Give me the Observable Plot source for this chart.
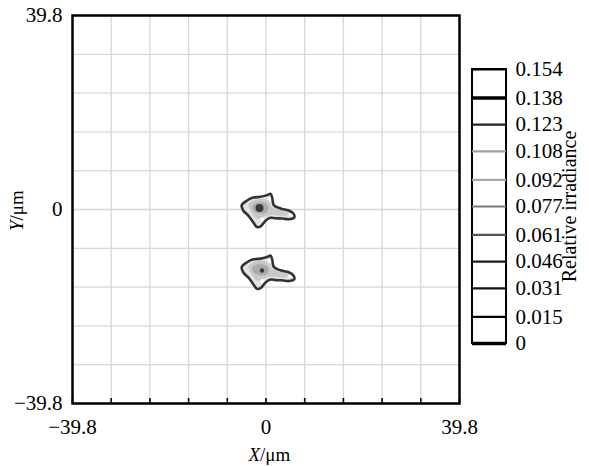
<!DOCTYPE html>
<html><head><meta charset="utf-8">
<script src="https://cdn.jsdelivr.net/npm/d3@7"></script>
<script src="https://cdn.jsdelivr.net/npm/@observablehq/plot@0.6"></script>
<style>
body{margin:0;background:#fff;}
#wrap{position:relative;width:589px;height:466px;font-family:"Liberation Serif","Times New Roman",serif;}
#main{position:absolute;left:0;top:0;}
#legend{position:absolute;left:470px;top:0;}
</style></head><body><div id="wrap"><div id="main"></div><div id="legend"></div></div>
<script>
// ---- data ----
const axisDomain = [-39.8, 39.8];
const gridValues = [-39.8, -31.84, -23.88, -15.92, -7.96, 0, 7.96, 15.92, 23.88, 31.84, 39.8];
const xTickLabels = [-39.8, 0, 39.8];
const yTickLabels = [-39.8, 0, 39.8];

// contour outlines of the spot (X, Y in µm)
const outerContour = [[-5.0,0.85],[-3.9,1.85],[-2.6,2.45],[-1.13,2.6],[0.25,2.95],[0.95,3.2],[1.3,2.3],[1.6,0.9],[3.0,0.2],[4.65,-0.2],[5.65,-0.85],[5.8,-1.65],[4.7,-2.0],[3.33,-1.85],[1.95,-1.8],[0.93,-1.7],[-0.10,-2.3],[-1.1,-3.45],[-1.85,-3.6],[-2.55,-2.75],[-3.6,-1.3],[-4.65,-0.25]];
const midContour = [[-3.60,1.03],[-2.16,1.95],[-0.51,2.15],[0.51,1.74],[1.34,0.41],[3.39,-0.21],[4.63,-0.85],[3.81,-1.28],[1.34,-1.08],[-0.51,-1.5],[-1.75,-1.95],[-2.98,-0.62]];
const innerContour = [[-2.78,0.82],[-1.54,1.44],[-0.10,1.23],[0.51,0.41],[0.10,-0.62],[-1.34,-0.82],[-2.57,-0.21]];
const holes = [[0.78,2.2],[5.1,-0.95],[-0.72,-2.1]];

const spotNames = ["upper", "lower"];
const spotShiftX = [0, 0];
const spotShiftY = [0, -12.68];
const coreX = [-1.34, -0.82];
const coreY = [0.31, -12.52];
const corePeak = [0.154, 0.138];

// legend levels
const levelValues = [0, 0.015, 0.031, 0.046, 0.061, 0.077, 0.092, 0.108, 0.123, 0.138, 0.154];
const levelLabels = ["0", "0.015", "0.031", "0.046", "0.061", "0.077", "0.092", "0.108", "0.123", "0.138", "0.154"];
const legendTitle = "Relative irradiance";

// ---- build tables ----
const build = (shape) => spotNames.flatMap((s, i) =>
  shape.map(([x, y]) => ({spot: s, x: x + spotShiftX[i], y: y + spotShiftY[i]})));
const outerData = build(outerContour);
const midData = build(midContour);
const innerData = build(innerContour);
const holeData = build(holes);
const coreData = spotNames.map((s, i) => ({spot: s, x: coreX[i], y: coreY[i], peak: corePeak[i]}));

const fmt = d => d < 0 ? "\u2212" + Math.abs(d) : String(d);
const serif = "'Liberation Serif', 'Times New Roman', serif";

const main = Plot.plot({
  width: 589, height: 466,
  marginLeft: 72, marginRight: 130, marginTop: 15, marginBottom: 63,
  style: {fontFamily: serif, fontSize: "21px", background: "white", color: "black"},
  x: {domain: axisDomain},
  y: {domain: axisDomain},
  r: {type: "linear", domain: [0.138, 0.154], range: [2.2, 4]},
  marks: [
    Plot.ruleX(gridValues, {stroke: "#d8d8d8", strokeWidth: 1.3}),
    Plot.ruleY(gridValues, {stroke: "#d8d8d8", strokeWidth: 1.3}),
    Plot.line(outerData, {x: "x", y: "y", z: "spot", curve: "catmull-rom-closed", fill: "#e2e2e2", stroke: "none"}),
    Plot.line(midData, {x: "x", y: "y", z: "spot", curve: "catmull-rom-closed", fill: "#c8c8c8", stroke: "none"}),
    Plot.line(innerData, {x: "x", y: "y", z: "spot", curve: "catmull-rom-closed", fill: "#aaaaaa", stroke: "none"}),
    Plot.dot(holeData, {x: "x", y: "y", r: 2.2, fill: "white"}),
    Plot.line(outerData, {x: "x", y: "y", z: "spot", curve: "catmull-rom-closed", fill: "none", stroke: "#333", strokeWidth: 2.6}),
    Plot.dot(coreData, {x: "x", y: "y", r: "peak", fill: "#3a3a3a"}),
    Plot.ruleX(gridValues, {y1: -39.8, y2: -38.77, stroke: "black", strokeWidth: 1.6}),
    Plot.frame({stroke: "black", strokeWidth: 2.5}),
    Plot.axisX(xTickLabels, {tickSize: 0, tickPadding: 16, tickFormat: fmt, label: null, fontSize: 21}),
    Plot.axisY(yTickLabels, {tickSize: 0, tickPadding: 10, tickFormat: fmt, label: null, fontSize: 21}),
    Plot.text(["X"], {text: d => d, frameAnchor: "bottom", dx: -6, dy: 57, textAnchor: "end", fontStyle: "italic", fontSize: 19}),
    Plot.text(["/μm"], {text: d => d, frameAnchor: "bottom", dx: -6, dy: 57, textAnchor: "start", fontSize: 19}),
    Plot.text(["Y"], {text: d => d, frameAnchor: "left", dx: -56, dy: 11, rotate: -90, textAnchor: "end", fontStyle: "italic", fontSize: 19}),
    Plot.text(["/μm"], {text: d => d, frameAnchor: "left", dx: -56, dy: 11, rotate: -90, textAnchor: "start", fontSize: 19})
  ]
});
document.getElementById("main").appendChild(main);

const legend = Plot.plot({
  width: 119, height: 466,
  marginLeft: 2, marginRight: 83, marginTop: 69, marginBottom: 123,
  style: {fontFamily: serif, fontSize: "21px", background: "none", color: "black", overflow: "visible"},
  x: {domain: [0, 1], axis: null},
  y: {domain: [0, 0.154], axis: null},
  color: {type: "ordinal", domain: levelValues,
          range: ["#000", "#000", "#111", "#1a1a1a", "#555", "#7a7a7a", "#a8a8a8", "#a0a0a0", "#222", "#000", "#000"]},
  marks: [
    Plot.rect([levelValues], {x1: 0, x2: 1, y1: d => d[0], y2: d => d[d.length - 1], fill: "white", stroke: "black", strokeWidth: 2}),
    Plot.ruleY(levelValues, {x1: 0, x2: 1, stroke: d => d, strokeWidth: d => (d === 0 || d === 0.138) ? 3.5 : 2.2}),
    Plot.text(levelLabels, {text: d => d, x: 1, y: (d, i) => levelValues[i], dx: 9, textAnchor: "start", fontSize: 21}),
    Plot.text([legendTitle], {text: d => d, x: () => 1, y: () => d3.median(levelValues), dx: 63, rotate: -90, textAnchor: "middle", fontSize: 20})
  ]
});
document.getElementById("legend").appendChild(legend);
</script></body></html>
